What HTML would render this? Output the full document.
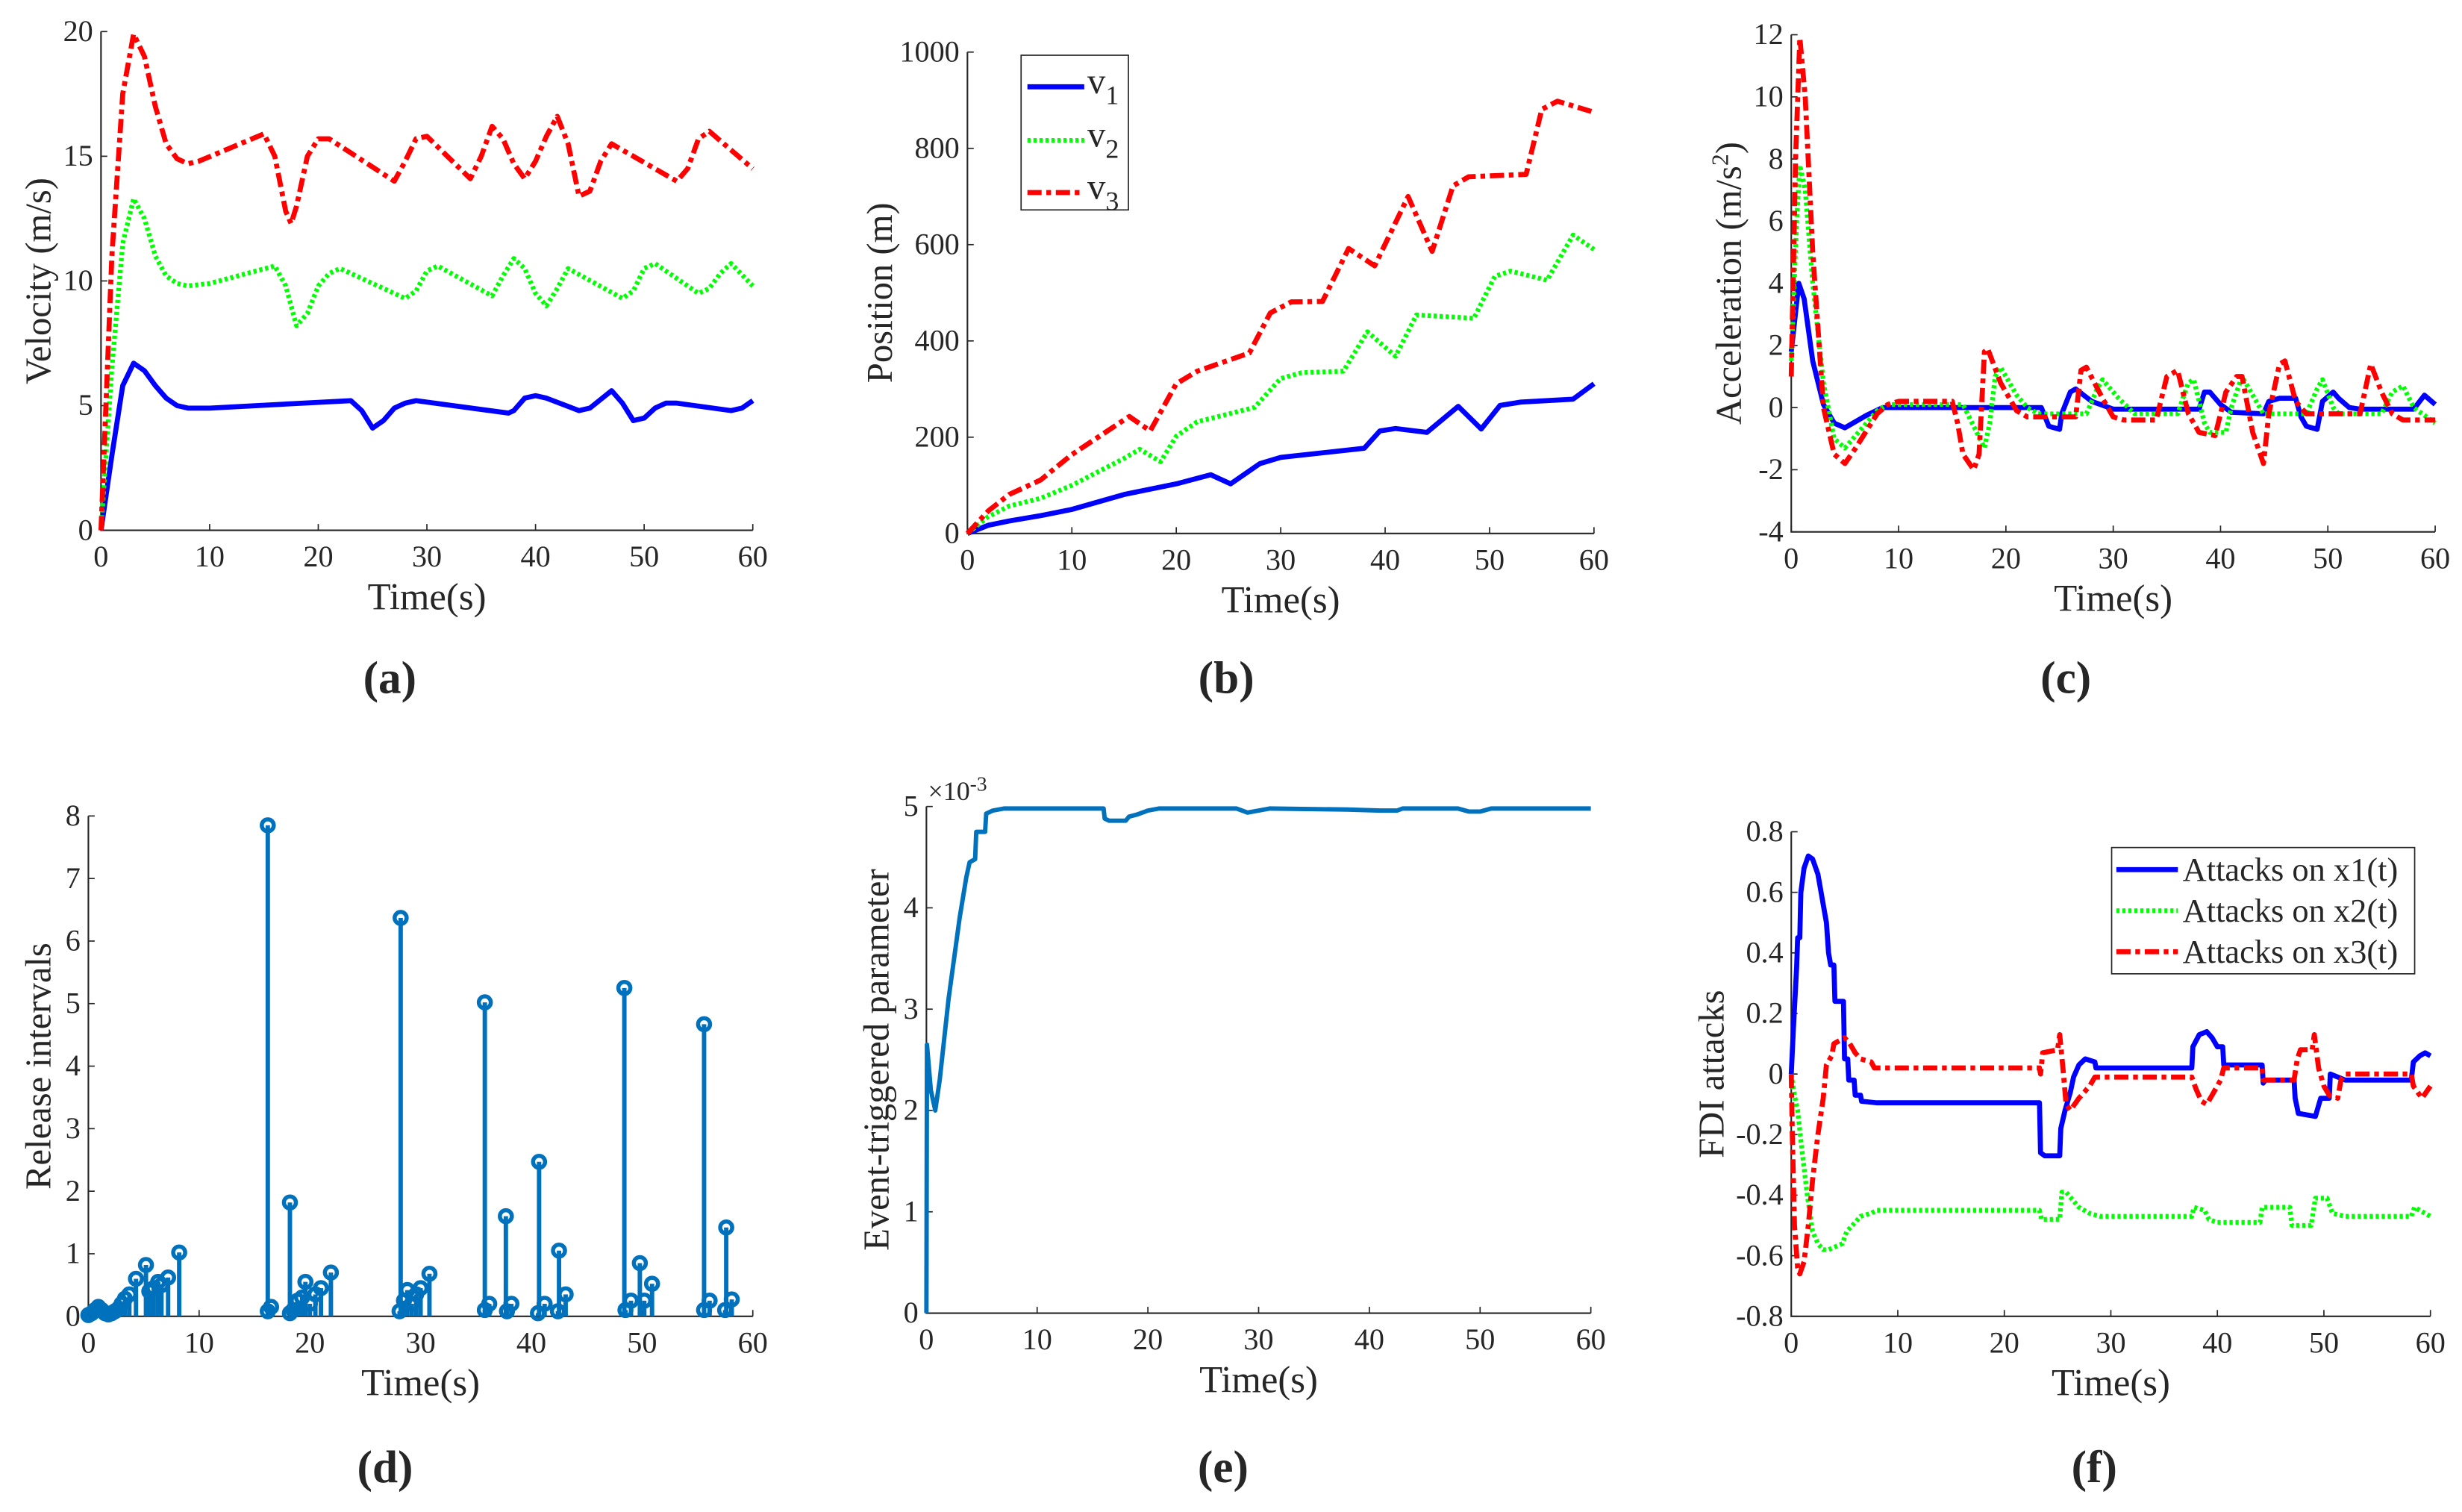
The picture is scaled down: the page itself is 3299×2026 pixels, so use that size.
<!DOCTYPE html>
<html><head><meta charset="utf-8"><style>
html,body{margin:0;padding:0;background:#fff}
svg{display:block}
text{font-family:"Liberation Serif",serif;fill:#262626}
</style></head><body>
<svg id="fig" width="3299" height="2026" viewBox="0 0 1560 958" preserveAspectRatio="none" xmlns="http://www.w3.org/2000/svg"></svg>
<script>
const xTicks=[0,10,20,30,40,50,60];
// (a) velocity
const velV1=[[0,0],[1,3],[2,5.8],[3,6.7],[4,6.4],[5,5.8],[6,5.3],[7,5.0],[8,4.9],[10,4.9],[23,5.2],[24,4.8],[25,4.1],[26,4.4],[27,4.9],[28,5.1],[29,5.2],[37.5,4.7],[38,4.8],[39,5.3],[40,5.4],[41,5.3],[44,4.8],[45,4.9],[47,5.6],[48,5.1],[49,4.4],[50,4.5],[51,4.9],[52,5.1],[53,5.1],[58,4.8],[59,4.9],[60,5.2]];
const velV2=[[0,0],[1,6.5],[2,11.5],[3,13.3],[4,12.5],[5,11],[6,10.2],[7,9.9],[8,9.8],[10,9.9],[16,10.6],[17,9.8],[18,8.2],[19,8.7],[20,9.8],[21,10.3],[22,10.5],[28,9.3],[29,9.6],[30,10.4],[31,10.6],[36,9.4],[37,10.2],[38,10.9],[39,10.5],[40,9.5],[41,9.0],[42,9.7],[43,10.5],[48,9.3],[49,9.6],[50,10.5],[51,10.7],[55,9.5],[56,9.7],[57,10.3],[58,10.7],[60,9.8]];
const velV3=[[0,0],[1,11],[2,17.5],[3,19.9],[4,19],[5,17],[6,15.5],[7,14.9],[8,14.7],[9,14.8],[15,15.9],[16,15],[17,12.8],[17.5,12.3],[18,13],[19,15],[20,15.7],[21,15.7],[27,14],[28,14.8],[29,15.7],[30,15.8],[34,14.1],[35,15],[36,16.2],[37,15.7],[38,14.7],[39,14.1],[40,14.8],[41,15.8],[42,16.6],[43,15.5],[44,13.4],[45,13.6],[46,14.8],[47,15.5],[53,14],[54,14.5],[55,15.7],[56,16],[60,14.5]];
const velTicks=[0,5,10,15,20];
// (b) position
const posV1=[[0,0],[2,17],[4,26],[7,37],[10,50],[15,81],[20,103],[23.3,122],[25.2,103],[28,145],[30,158],[38,177],[39.5,213],[41,218],[44,210],[47,264],[49.2,217],[51,266],[53,273],[58,279],[60,311]];
const posV2=[[0,0],[2,35],[4,57],[7,73],[10,100],[15,156],[16.5,175],[18.5,149],[20,202],[22,232],[27.5,262],[30,322],[32,334],[36,337],[38.3,419],[41,368],[43,454],[48.5,447],[50.5,534],[52,545],[55.5,526],[58,620],[60,590]];
const posV3=[[0,0],[2,47],[4,81],[7,111],[10,164],[15.5,243],[17.5,213],[20,311],[22,337],[27,375],[29,458],[31,481],[34,482],[36.5,592],[39,556],[42.2,700],[44.5,586],[46.5,722],[48,741],[53.5,746],[55,881],[56.5,898],[60,875]];
const posTicks=[0,200,400,600,800,1000];
// (c) acceleration
const accV1=[[0,1.8],[0.7,4],[1.2,3.5],[2,1.5],[3,0.1],[4,-0.5],[5,-0.65],[7,-0.25],[8.5,0],[23.3,0],[24,-0.6],[25,-0.7],[25.2,-0.2],[26,0.5],[26.5,0.6],[28,0.2],[30,-0.05],[38,-0.05],[38.5,0.5],[39,0.5],[40,0.1],[41,-0.15],[44,-0.2],[44.5,0.2],[45.5,0.3],[47,0.3],[47.5,-0.3],[48,-0.6],[49,-0.7],[49.5,0.2],[50.5,0.5],[51,0.3],[52,0],[53,-0.05],[58,-0.05],[59,0.4],[60,0.1]];
const accV2=[[0,1.5],[0.5,6],[0.8,7.8],[1.3,7],[2,4],[3,0.8],[4,-1],[5,-1.3],[6,-0.9],[8,-0.1],[9,0.1],[16,0.1],[17,-0.6],[18,-1.3],[18.5,-0.5],[19,1],[19.5,1.3],[21,0.4],[22,0],[23,-0.2],[27.5,-0.2],[28.5,0.6],[29,0.9],[30.5,0.3],[32,-0.2],[36,-0.2],[37,0.8],[37.5,0.9],[38.5,-0.5],[39,-0.8],[40.5,-0.8],[41,0],[42,1],[43,0.4],[44,-0.2],[48,-0.2],[49,0.6],[49.5,0.9],[50.5,0],[51,-0.2],[55,-0.2],[56,0.5],[57,0.7],[58,0],[60,-0.5]];
const accV3=[[0,1],[0.4,8],[0.8,11.9],[1.3,10],[2,5],[3,0],[4,-1.5],[5,-1.8],[6,-1.3],[8,-0.2],[9,0.1],[10,0.2],[15,0.2],[15.5,-0.5],[16,-1.5],[17,-2],[17.5,-1.5],[18,1.8],[18.3,1.9],[19.5,0.8],[21,-0.1],[22,-0.3],[26.5,-0.3],[27,1.2],[27.5,1.3],[29,0.3],[30,-0.3],[31,-0.4],[34,-0.4],[35,1],[36,1.2],[37,-0.2],[38,-0.8],[39.5,-0.9],[40.5,0.5],[41.5,1],[42,1],[43,-0.8],[44,-1.8],[44.5,-0.2],[45.5,1.4],[46,1.5],[47,0.2],[48,-0.2],[53,-0.2],[54,1.4],[55,0.5],[56,-0.2],[57,-0.4],[60,-0.4]];
const accTicks=[-4,-2,0,2,4,6,8,10,12];
// (d) release intervals
const relStems=[[0,0.02],[0.3,0.05],[0.6,0.1],[0.9,0.15],[1.2,0.1],[1.5,0.05],[1.8,0.03],[2.1,0.05],[2.4,0.08],[2.7,0.12],[3.0,0.2],[3.3,0.28],[3.7,0.35],[4.3,0.6],[5.2,0.82],[5.5,0.4],[5.9,0.45],[6.3,0.55],[6.6,0.5],[7.2,0.62],[8.2,1.02],[16.2,7.85],[16.2,0.08],[16.5,0.15],[18.2,1.82],[18.2,0.05],[18.5,0.1],[18.9,0.25],[19.3,0.3],[19.6,0.55],[20,0.2],[20.5,0.35],[21,0.45],[21.9,0.7],[28.2,6.37],[28.1,0.08],[28.5,0.25],[28.8,0.42],[29.2,0.2],[29.6,0.35],[30,0.45],[30.8,0.68],[35.8,5.02],[35.8,0.1],[36.2,0.2],[37.7,1.6],[37.8,0.08],[38.2,0.2],[40.7,2.47],[40.6,0.05],[41.2,0.2],[42.5,1.05],[42.4,0.08],[43.1,0.35],[48.4,5.25],[48.5,0.1],[49,0.25],[49.8,0.85],[50.2,0.25],[50.9,0.52],[55.6,4.67],[55.6,0.1],[56.1,0.25],[57.6,1.42],[57.5,0.1],[58.1,0.27]];
const relTicks=[0,1,2,3,4,5,6,7,8];
// (e) event-triggered parameter (x1e-3)
const etParam=[[0,0],[0.05,2.65],[0.4,2.2],[0.8,2.0],[1.2,2.3],[2,3.1],[3,3.9],[3.3,4.1],[3.6,4.3],[3.9,4.45],[4.4,4.48],[4.5,4.75],[5.3,4.75],[5.4,4.93],[6,4.96],[7,4.98],[16,4.98],[16.1,4.88],[16.5,4.86],[18,4.86],[18.3,4.9],[19,4.92],[20,4.96],[21,4.98],[28,4.98],[29,4.94],[30,4.96],[31,4.98],[38,4.97],[41,4.96],[42.5,4.96],[43,4.98],[48,4.98],[49,4.95],[50,4.95],[51,4.98],[60,4.98]];
const etTicks=[0,1,2,3,4,5];
// (f) FDI attacks
const fdiX1=[[0,0],[0.2,0.15],[0.5,0.35],[0.6,0.45],[0.8,0.45],[0.9,0.6],[1.2,0.68],[1.6,0.72],[2,0.71],[2.5,0.66],[3,0.56],[3.3,0.5],[3.5,0.4],[3.7,0.36],[4,0.36],[4.1,0.24],[4.9,0.24],[5,0.05],[5.3,0.05],[5.4,-0.02],[5.9,-0.02],[6,-0.07],[6.5,-0.07],[6.6,-0.09],[8,-0.095],[23.3,-0.095],[23.4,-0.26],[23.8,-0.27],[25.2,-0.27],[25.3,-0.18],[25.7,-0.12],[26.2,-0.06],[26.5,-0.01],[27,0.03],[27.6,0.05],[28.5,0.04],[28.6,0.02],[37.6,0.02],[37.7,0.09],[38.3,0.13],[39,0.14],[39.5,0.12],[40,0.09],[40.5,0.09],[40.6,0.03],[44.2,0.03],[44.3,-0.03],[44.5,-0.02],[47.2,-0.02],[47.3,-0.08],[47.6,-0.13],[49.2,-0.14],[49.7,-0.08],[50.5,-0.08],[50.6,0.0],[52,-0.02],[58.2,-0.02],[58.4,0.04],[59,0.06],[59.5,0.07],[60,0.06]];
const fdiX2=[[0,0],[0.3,-0.07],[0.6,-0.12],[1,-0.25],[1.5,-0.4],[2,-0.52],[2.5,-0.56],[3,-0.58],[3.5,-0.58],[4.8,-0.56],[5.2,-0.52],[6,-0.49],[6.5,-0.47],[7.5,-0.46],[8,-0.45],[23.3,-0.45],[23.5,-0.48],[25.2,-0.48],[25.4,-0.39],[25.8,-0.39],[27,-0.44],[28,-0.46],[29,-0.47],[37.6,-0.47],[37.8,-0.44],[38.8,-0.45],[39.2,-0.48],[40,-0.49],[44,-0.49],[44.2,-0.44],[46.8,-0.44],[47,-0.5],[48.8,-0.5],[49.2,-0.41],[50.3,-0.41],[50.8,-0.46],[52,-0.47],[58.2,-0.47],[58.5,-0.44],[59,-0.45],[60,-0.47]];
const fdiX3=[[0,0],[0.1,-0.2],[0.3,-0.5],[0.6,-0.64],[0.8,-0.66],[1.2,-0.62],[1.6,-0.5],[2,-0.35],[2.5,-0.2],[3,-0.08],[3.3,0.03],[3.8,0.06],[4,0.1],[5,0.12],[5.5,0.1],[6,0.07],[6.5,0.05],[7.5,0.04],[7.8,0.02],[23.3,0.02],[23.4,0],[23.6,0.07],[25,0.08],[25.2,0.13],[25.5,0.02],[25.8,-0.1],[26.2,-0.12],[27,-0.08],[28,-0.04],[28.5,-0.01],[37.6,-0.01],[38,-0.05],[38.5,-0.09],[39,-0.1],[39.5,-0.07],[40.3,-0.02],[40.6,0.02],[44.2,0.02],[44.3,-0.02],[47.2,-0.02],[47.5,0.05],[47.8,0.08],[48.9,0.08],[49.1,0.13],[49.5,0.02],[50,-0.04],[50.5,-0.07],[51.3,-0.08],[51.6,-0.02],[52,0],[58.2,0],[58.4,-0.04],[59.2,-0.08],[60,-0.04]];
const fdiTicks=[-0.8,-0.6,-0.4,-0.2,0,0.2,0.4,0.6,0.8];
const fdiTickLabels=["-0.8","-0.6","-0.4","-0.2","0","0.2","0.4","0.6","0.8"];

const NS="http://www.w3.org/2000/svg";
const svg=document.getElementById('fig');
function mk(tag,attrs,parent){const e=document.createElementNS(NS,tag);for(const k in attrs)e.setAttribute(k,attrs[k]);(parent||svg).appendChild(e);return e;}
const STY={
 blue:{stroke:'#0000ff','stroke-width':3.2},
 green:{stroke:'#00ff00','stroke-width':3,'stroke-dasharray':'2 1.8'},
 red:{stroke:'#ff0000','stroke-width':3.2,'stroke-dasharray':'9 3 3 3'},
 mat:{stroke:'#0072bd','stroke-width':2.8}
};
function panel(name,b,ymin,ymax,yt,ytl,ylabel,ylx){
 const g=mk('g',{});
 
 
 const sx=t=>b.x0+(t-0)/(60-0)*(b.x1-b.x0);
 const sy=v=>b.y1-(v-ymin)/(ymax-ymin)*(b.y1-b.y0);
 const ax=mk('path',{d:`M${b.x0},${b.y0}V${b.y1}H${b.x1}`,fill:'none',stroke:'#262626','stroke-width':1},g);
 
 
 xTicks.forEach(t=>{
  mk('line',{x1:sx(t),x2:sx(t),y1:b.y1,y2:b.y1-4,stroke:'#262626','stroke-width':0.8},g);
  const tx=mk('text',{x:sx(t),y:b.y1+23,'text-anchor':'middle','font-size':19},g);
  
  
  tx.textContent=t;
 });
 yt.forEach((v,i)=>{
  mk('line',{x1:b.x0,x2:b.x0+4,y1:sy(v),y2:sy(v),stroke:'#262626','stroke-width':0.8},g);
  const tx=mk('text',{x:b.x0-5,y:sy(v)+6,'text-anchor':'end','font-size':19},g);
  
  
  tx.textContent=ytl?ytl[i]:v;
 });
 const xl=mk('text',{x:(b.x0+b.x1)/2,y:b.y1+50,'text-anchor':'middle','font-size':24},g);
 
 
 xl.textContent='Time(s)';
 const cy=(b.y0+b.y1)/2;
 const yl=mk('text',{x:ylx,y:cy,'text-anchor':'middle','font-size':23,transform:`rotate(-90 ${ylx} ${cy})`},g);
 
 
 if(typeof ylabel==='string')yl.textContent=ylabel;else ylabel(yl);
 return {g,sx,sy};
}
function line(p,data,sty,name){
 const d=data.map((q,i)=>(i?'L':'M')+p.sx(q[0]).toFixed(2)+','+p.sy(q[1]).toFixed(2)).join('');
 const e=mk('path',Object.assign({d,fill:'none','stroke-linejoin':'round'},STY[sty]),p.g);
 
 
}
function plabel(txt,x,y){
 const t=mk('text',{x,y,'text-anchor':'middle','font-size':29,'font-weight':'bold'});
 
 
 t.textContent=txt;
}
// (a)
const pa=panel('panel-a-velocity',{x0:64,x1:477,y0:20,y1:336},0,20,velTicks,null,'Velocity (m/s)',32);
line(pa,velV1,'blue','velocity-v1');line(pa,velV2,'green','velocity-v2');line(pa,velV3,'red','velocity-v3');
// (b)
const pb=panel('panel-b-position',{x0:613,x1:1010,y0:33,y1:338},0,1000,posTicks,null,'Position (m)',565);
line(pb,posV1,'blue','position-v1');line(pb,posV2,'green','position-v2');line(pb,posV3,'red','position-v3');
{const lg=mk('g',{});
 
 
 mk('rect',{x:647,y:35,width:68,height:98,fill:'#fff',stroke:'#262626','stroke-width':0.8},lg);
 [['blue','1',55],['green','2',89],['red','3',122]].forEach(([s,n,y])=>{
  const le=mk('g',{},lg);
  
  
  mk('line',Object.assign({x1:651,x2:687,y1:y,y2:y},STY[s]),le);
  const t=mk('text',{x:689,y:y+4,'font-size':23},le);t.textContent='v';
  const s2=mk('tspan',{dy:7,'font-size':17},t);s2.textContent=n;
 });}
// (c)
const pc=panel('panel-c-acceleration',{x0:1135,x1:1543,y0:22,y1:337},-4,12,accTicks,null,el=>{el.textContent='Acceleration (m/s';const s=mk('tspan',{dy:-8,'font-size':15},el);s.textContent='2';const s2=mk('tspan',{dy:8},el);s2.textContent=')';},1103);
line(pc,accV1,'blue','acceleration-v1');line(pc,accV2,'green','acceleration-v2');line(pc,accV3,'red','acceleration-v3');
// (d)
const pd=panel('panel-d-release-intervals',{x0:56,x1:477,y0:517,y1:834},0,8,relTicks,null,'Release intervals',32);
relStems.forEach(q=>{
 const st=mk('line',Object.assign({x1:pd.sx(q[0]),x2:pd.sx(q[0]),y1:pd.sy(0),y2:pd.sy(q[1])},STY.mat),pd.g);
 
 
 const c=mk('circle',{cx:pd.sx(q[0]),cy:pd.sy(q[1]),r:3.8,fill:'none',stroke:'#0072bd','stroke-width':2.6},pd.g);
 
 
});
// (e)
const pe=panel('panel-e-event-parameter',{x0:587,x1:1008,y0:511,y1:832},0,5,etTicks,null,'Event-triggered parameter',563);
line(pe,etParam,'mat','event-triggered-parameter');
{const t=mk('text',{x:588,y:507,'font-size':17});
 
 
 t.textContent='×10';const s=mk('tspan',{dy:-6,'font-size':13},t);s.textContent='-3';}
// (f)
const pf=panel('panel-f-fdi-attacks',{x0:1135,x1:1540,y0:527,y1:834},-0.8,0.8,fdiTicks,fdiTickLabels,'FDI attacks',1092);
line(pf,fdiX1,'blue','fdi-x1');line(pf,fdiX2,'green','fdi-x2');line(pf,fdiX3,'red','fdi-x3');
{const lg=mk('g',{});
 
 
 mk('rect',{x:1338,y:537,width:192,height:80,fill:'#fff',stroke:'#262626','stroke-width':0.8},lg);
 [['blue','Attacks on x1(t)',551],['green','Attacks on x2(t)',577],['red','Attacks on x3(t)',603]].forEach(([s,txt,y])=>{
  const le=mk('g',{},lg);
  
  
  mk('line',Object.assign({x1:1341,x2:1380,y1:y,y2:y},STY[s]),le);
  const t=mk('text',{x:1383,y:y+7,'font-size':21},le);t.textContent=txt;
 });}
plabel('(a)',247,439);plabel('(b)',777,439);plabel('(c)',1309,439);
plabel('(d)',244,939);plabel('(e)',775,939);plabel('(f)',1327,939);
</script>
</body></html>
